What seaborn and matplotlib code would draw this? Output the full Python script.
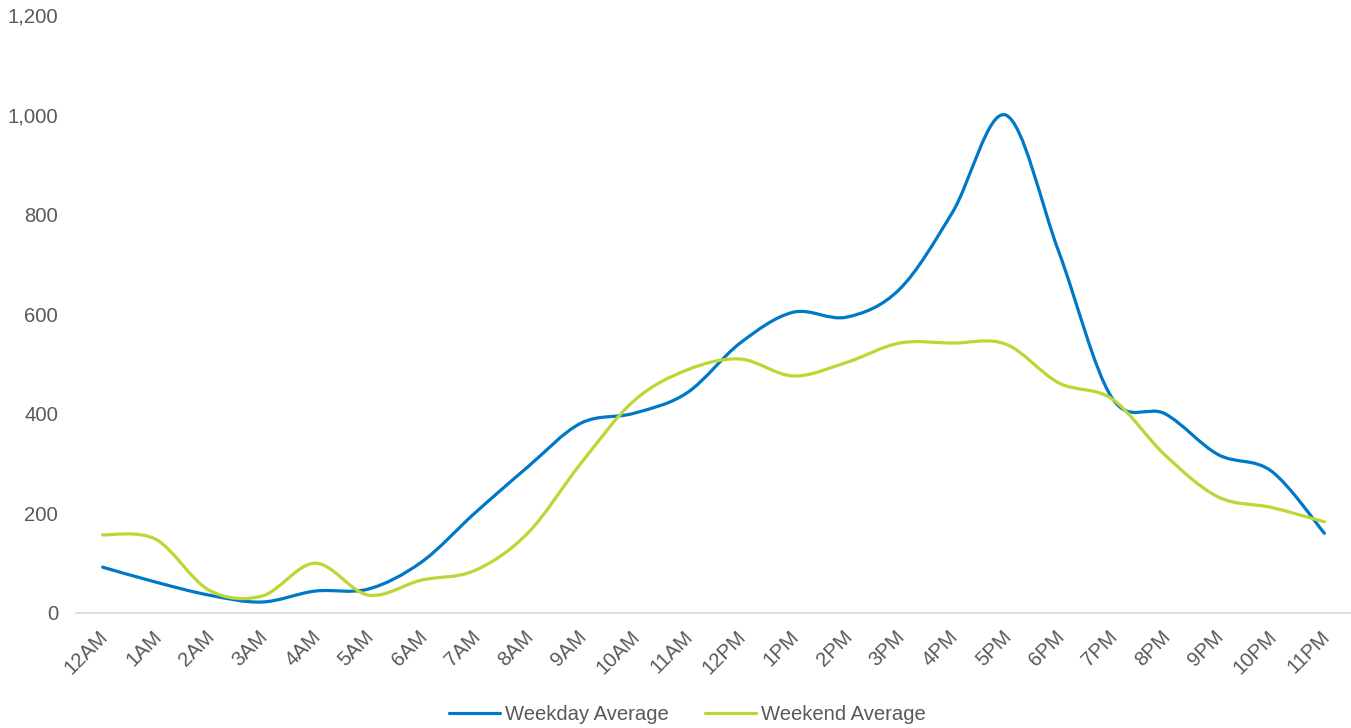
import numpy as np
import pandas as pd
import matplotlib
matplotlib.use("Agg")
import matplotlib.pyplot as plt
import matplotlib.transforms as mtransforms
from matplotlib.path import Path
from matplotlib.patches import PathPatch
from matplotlib.lines import Line2D
import seaborn as sns

# dados
horas = ['12AM', '1AM', '2AM', '3AM', '4AM', '5AM', '6AM', '7AM', '8AM', '9AM', '10AM', '11AM',
         '12PM', '1PM', '2PM', '3PM', '4PM', '5PM', '6PM', '7PM', '8PM', '9PM', '10PM', '11PM']
weekday = [92, 62, 36, 22, 44, 48, 102, 200, 293, 381, 401, 442,
           542, 604, 594, 650, 805, 1000, 725, 432, 400, 318, 285, 160]
weekend = [157, 148, 46, 34, 100, 36, 66, 85, 160, 300, 426, 488,
           510, 476, 503, 542, 542, 540, 462, 430, 317, 233, 212, 183]
series = ['Weekday Average', 'Weekend Average']
cores = ['#0078C8', '#BDD633']
yticks = [0, 200, 400, 600, 800, 1000, 1200]

df = pd.DataFrame({
    'hora': list(range(len(horas))) * 2,
    'valor': weekday + weekend,
    'serie': [series[0]] * len(horas) + [series[1]] * len(horas),
})

sns.set_style("white")
plt.rcParams['font.family'] = ['Liberation Sans', 'DejaVu Sans']
cinza = '#595959'
fonte = 14.6

fig = plt.figure(figsize=(13.51, 7.28), dpi=100)
ax = fig.add_axes([0.0563, 0.158, 0.9437, 0.8208])

sns.lineplot(data=df, x='hora', y='valor', hue='serie', palette=cores,
             linewidth=2.3, legend=False, ax=ax)


def suavizar(x, y):
    # curva suave estilo Excel (bezier com pontos de controle catmull-rom)
    pts = np.column_stack([x, y])
    n = len(pts)
    verts = [pts[0]]
    codes = [Path.MOVETO]
    for i in range(n - 1):
        p0 = pts[i - 1] if i > 0 else pts[i]
        p1 = pts[i]
        p2 = pts[i + 1]
        p3 = pts[i + 2] if i + 2 < n else pts[i + 1]
        c1 = p1 + (p2 - p0) / 6
        c2 = p2 - (p3 - p1) / 6
        verts += [c1, c2, p2]
        codes += [Path.CURVE4] * 3
    return Path(verts, codes)


for linha, cor in zip(ax.get_lines(), cores):
    x, y = linha.get_data()
    patch = PathPatch(suavizar(np.asarray(x, float), np.asarray(y, float)),
                      facecolor='none', edgecolor=cor, linewidth=2.3,
                      capstyle='round', joinstyle='round', zorder=3)
    ax.add_patch(patch)
    linha.set_visible(False)

ax.set_xlim(-0.5, len(horas) - 0.5)
ax.set_ylim(0, 1200)
ax.set_xticks(range(len(horas)))
ax.set_xticklabels(horas, rotation=45, ha='right', rotation_mode='anchor')
ax.set_yticks(yticks)
ax.set_yticklabels([f'{v:,}' for v in yticks])
ax.tick_params(axis='y', length=0, pad=13, labelsize=fonte, labelcolor=cinza)
ax.tick_params(axis='x', length=0, pad=10, labelsize=fonte, labelcolor=cinza)
desloc = mtransforms.ScaledTranslation(-4 / 100, 0, fig.dpi_scale_trans)
for lbl in ax.get_xticklabels():
    lbl.set_transform(lbl.get_transform() + desloc)
ax.set_xlabel('')
ax.set_ylabel('')

for lado in ['top', 'right', 'left']:
    ax.spines[lado].set_visible(False)
ax.spines['bottom'].set_color('#D9D9D9')
ax.spines['bottom'].set_linewidth(1.2)

handles = [Line2D([0], [0], color=c, linewidth=2.3) for c in cores]
leg = fig.legend(handles, series, loc='center', bbox_to_anchor=(0.509, 0.019),
                 ncol=2, frameon=False, fontsize=fonte, handlelength=2.5,
                 handletextpad=0.25, columnspacing=1.8)
for t in leg.get_texts():
    t.set_color(cinza)

fig.savefig('out.png', dpi=100)
